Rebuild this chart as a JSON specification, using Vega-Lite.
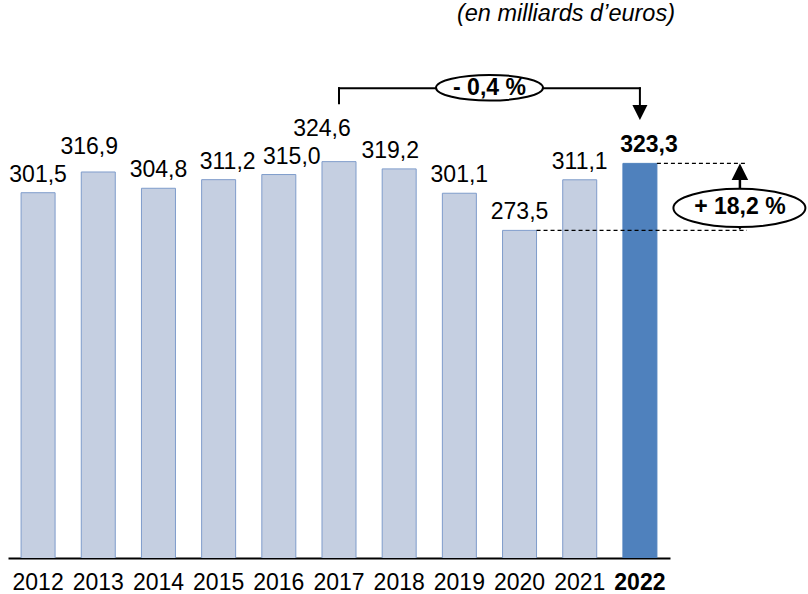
{
  "$schema": "https://vega.github.io/schema/vega-lite/v6.json",
  "width": 662,
  "height": 518,
  "autosize": {"type": "none"},
  "padding": {"left": 8, "top": 40, "right": 138, "bottom": 36},
  "title": {
    "text": "(en milliards d’euros)",
    "anchor": "end",
    "frame": "group",
    "font": "Liberation Sans",
    "fontSize": 23.5,
    "fontStyle": "italic",
    "fontWeight": "normal",
    "color": "black",
    "dx": 5,
    "offset": -4,
    "baseline": "alphabetic"
  },
  "config": {
    "view": {"stroke": null},
    "font": "Liberation Sans",
    "locale": {"number": {"decimal": ",", "thousands": " ", "grouping": [3], "currency": ["", " €"]}},
    "axisY": {"disable": true},
    "axisX": {
      "domainColor": "black",
      "domainWidth": 2,
      "ticks": false,
      "grid": false,
      "labelFont": "Liberation Sans",
      "labelFontSize": 23,
      "labelColor": "black",
      "labelAngle": 0,
      "labelPadding": 31,
      "labelBaseline": "alphabetic"
    }
  },
  "datasets": {
    "depenses": [
      {"year": "2012", "value": 301.5},
      {"year": "2013", "value": 316.9},
      {"year": "2014", "value": 304.8},
      {"year": "2015", "value": 311.2},
      {"year": "2016", "value": 315.0},
      {"year": "2017", "value": 324.6},
      {"year": "2018", "value": 319.2},
      {"year": "2019", "value": 301.1},
      {"year": "2020", "value": 273.5},
      {"year": "2021", "value": 311.1},
      {"year": "2022", "value": 323.3}
    ],
    "evol1": [{"from": "2017", "to": "2022", "label": "- 0,4 %"}],
    "evol2": [{"from": "2020", "to": "2022", "low": 273.5, "high": 323.3, "label": "+ 18,2 %"}]
  },
  "layer": [
    {
      "data": {"name": "depenses"},
      "mark": {"type": "bar", "clip": true, "strokeWidth": 1},
      "encoding": {
        "x": {
          "field": "year", "type": "ordinal", "title": null,
          "scale": {"paddingInner": 0.435, "paddingOuter": 0.2175},
          "axis": {"labelFontWeight": {"condition": {"test": "datum.value === '2022'", "value": "bold"}, "value": "normal"}}
        },
        "y": {"field": "value", "type": "quantitative", "title": null, "scale": {"domain": [30, 415], "nice": false, "zero": false}, "axis": null},
        "color": {"condition": {"test": "datum.year === '2022'", "value": "#4f81bd"}, "value": "#c5cfe1"},
        "stroke": {"condition": {"test": "datum.year === '2022'", "value": "#4f81bd"}, "value": "#7f9ccb"}
      }
    },
    {
      "data": {"name": "depenses"},
      "transform": [{"filter": {"field": "year", "oneOf": ["2012", "2014", "2019", "2020", "2021"]}}],
      "mark": {"type": "text", "fontSize": 23, "baseline": "alphabetic", "dy": -11, "color": "black"},
      "encoding": {
        "x": {"field": "year", "type": "ordinal", "title": null},
        "y": {"field": "value", "type": "quantitative", "title": null},
        "text": {"field": "value", "type": "quantitative", "format": ".1f"}
      }
    },
    {
      "data": {"name": "depenses"},
      "transform": [{"filter": "datum.year === '2013'"}],
      "mark": {"type": "text", "fontSize": 23, "baseline": "alphabetic", "dx": -9, "dy": -18, "color": "black"},
      "encoding": {
        "x": {"field": "year", "type": "ordinal", "title": null},
        "y": {"field": "value", "type": "quantitative", "title": null},
        "text": {"field": "value", "type": "quantitative", "format": ".1f"}
      }
    },
    {
      "data": {"name": "depenses"},
      "transform": [{"filter": "datum.year === '2015'"}],
      "mark": {"type": "text", "fontSize": 23, "baseline": "alphabetic", "dx": 9, "dy": -10.5, "color": "black"},
      "encoding": {
        "x": {"field": "year", "type": "ordinal", "title": null},
        "y": {"field": "value", "type": "quantitative", "title": null},
        "text": {"field": "value", "type": "quantitative", "format": ".1f"}
      }
    },
    {
      "data": {"name": "depenses"},
      "transform": [{"filter": "datum.year === '2016'"}],
      "mark": {"type": "text", "fontSize": 23, "baseline": "alphabetic", "dx": 13, "dy": -11, "color": "black"},
      "encoding": {
        "x": {"field": "year", "type": "ordinal", "title": null},
        "y": {"field": "value", "type": "quantitative", "title": null},
        "text": {"field": "value", "type": "quantitative", "format": ".1f"}
      }
    },
    {
      "data": {"name": "depenses"},
      "transform": [{"filter": "datum.year === '2017'"}],
      "mark": {"type": "text", "fontSize": 23, "baseline": "alphabetic", "dx": -17, "dy": -26, "color": "black"},
      "encoding": {
        "x": {"field": "year", "type": "ordinal", "title": null},
        "y": {"field": "value", "type": "quantitative", "title": null},
        "text": {"field": "value", "type": "quantitative", "format": ".1f"}
      }
    },
    {
      "data": {"name": "depenses"},
      "transform": [{"filter": "datum.year === '2018'"}],
      "mark": {"type": "text", "fontSize": 23, "baseline": "alphabetic", "dx": -9, "dy": -10.5, "color": "black"},
      "encoding": {
        "x": {"field": "year", "type": "ordinal", "title": null},
        "y": {"field": "value", "type": "quantitative", "title": null},
        "text": {"field": "value", "type": "quantitative", "format": ".1f"}
      }
    },
    {
      "data": {"name": "depenses"},
      "transform": [{"filter": "datum.year === '2022'"}],
      "mark": {"type": "text", "fontSize": 23, "fontWeight": "bold", "baseline": "alphabetic", "dx": 9, "dy": -11.5, "color": "black"},
      "encoding": {
        "x": {"field": "year", "type": "ordinal", "title": null},
        "y": {"field": "value", "type": "quantitative", "title": null},
        "text": {"field": "value", "type": "quantitative", "format": ".1f"}
      }
    },
    {
      "data": {"name": "evol1"},
      "mark": {"type": "rule", "strokeWidth": 2, "color": "black", "strokeCap": "square"},
      "encoding": {
        "x": {"field": "from", "type": "ordinal", "title": null},
        "x2": {"field": "to"},
        "y": {"datum": 379.1, "type": "quantitative"}
      }
    },
    {
      "data": {"name": "evol1"},
      "mark": {"type": "rule", "strokeWidth": 2, "color": "black", "strokeCap": "square"},
      "encoding": {
        "x": {"field": "from", "type": "ordinal", "title": null},
        "y": {"datum": 379.1, "type": "quantitative"},
        "y2": {"datum": 367.9}
      }
    },
    {
      "data": {"name": "evol1"},
      "mark": {"type": "rule", "strokeWidth": 2, "color": "black", "strokeCap": "square"},
      "encoding": {
        "x": {"field": "to", "type": "ordinal", "title": null},
        "y": {"datum": 379.1, "type": "quantitative"},
        "y2": {"datum": 364}
      }
    },
    {
      "data": {"name": "evol1"},
      "mark": {"type": "point", "shape": "M-1,-1L1,-1L0,1Z", "size": 225, "filled": true, "color": "black", "opacity": 1, "strokeWidth": 0},
      "encoding": {
        "x": {"field": "to", "type": "ordinal", "title": null},
        "y": {"datum": 361.1, "type": "quantitative"}
      }
    },
    {
      "data": {"name": "evol1"},
      "mark": {"type": "point", "shape": "M-1,0C-1,-0.1326,-0.5523,-0.24,0,-0.24C0.5523,-0.24,1,-0.1326,1,0C1,0.1326,0.5523,0.24,0,0.24C-0.5523,0.24,-1,0.1326,-1,0Z", "size": 11449, "filled": true, "fill": "white", "stroke": "black", "strokeWidth": 2, "opacity": 1, "xOffset": 150.5},
      "encoding": {
        "x": {"field": "from", "type": "ordinal", "title": null},
        "y": {"datum": 379.5, "type": "quantitative"}
      }
    },
    {
      "data": {"name": "evol1"},
      "mark": {"type": "text", "fontSize": 23, "fontWeight": "bold", "baseline": "middle", "color": "black", "dx": 150.5},
      "encoding": {
        "x": {"field": "from", "type": "ordinal", "title": null},
        "y": {"datum": 379.5, "type": "quantitative"},
        "text": {"field": "label"}
      }
    },
    {
      "data": {"name": "evol2"},
      "mark": {"type": "rule", "strokeWidth": 1.2, "color": "black", "strokeDash": [4, 3], "xOffset": 17, "x2Offset": 107},
      "encoding": {
        "x": {"field": "to", "type": "ordinal", "title": null},
        "x2": {"field": "to"},
        "y": {"field": "high", "type": "quantitative", "title": null}
      }
    },
    {
      "data": {"name": "evol2"},
      "mark": {"type": "rule", "strokeWidth": 1.2, "color": "black", "strokeDash": [4, 3], "xOffset": 17, "x2Offset": 107},
      "encoding": {
        "x": {"field": "from", "type": "ordinal", "title": null},
        "x2": {"field": "to"},
        "y": {"field": "low", "type": "quantitative", "title": null}
      }
    },
    {
      "data": {"name": "evol2"},
      "mark": {"type": "rule", "strokeWidth": 2.5, "color": "black", "xOffset": 100, "yOffset": 16, "y2Offset": -2},
      "encoding": {
        "x": {"field": "to", "type": "ordinal", "title": null},
        "y": {"field": "high", "type": "quantitative", "title": null},
        "y2": {"field": "low"}
      }
    },
    {
      "data": {"name": "evol2"},
      "mark": {"type": "point", "shape": "M0,-1L1,1L-1,1Z", "size": 275, "filled": true, "color": "black", "opacity": 1, "strokeWidth": 0, "xOffset": 100, "yOffset": 8.3},
      "encoding": {
        "x": {"field": "to", "type": "ordinal", "title": null},
        "y": {"field": "high", "type": "quantitative", "title": null}
      }
    },
    {
      "data": {"name": "evol2"},
      "mark": {"type": "point", "shape": "M-1,-1L1,-1L0,1Z", "size": 275, "filled": true, "color": "black", "opacity": 1, "strokeWidth": 0, "xOffset": 100, "yOffset": -8.3},
      "encoding": {
        "x": {"field": "to", "type": "ordinal", "title": null},
        "y": {"field": "low", "type": "quantitative", "title": null}
      }
    },
    {
      "data": {"name": "evol2"},
      "mark": {"type": "point", "shape": "M-1,0C-1,-0.1602,-0.5523,-0.29,0,-0.29C0.5523,-0.29,1,-0.1602,1,0C1,0.1602,0.5523,0.29,0,0.29C-0.5523,0.29,-1,0.1602,-1,0Z", "size": 17424, "filled": true, "fill": "white", "stroke": "black", "strokeWidth": 2, "opacity": 1, "xOffset": 99.5, "yOffset": -22.4},
      "encoding": {
        "x": {"field": "to", "type": "ordinal", "title": null},
        "y": {"field": "low", "type": "quantitative", "title": null}
      }
    },
    {
      "data": {"name": "evol2"},
      "mark": {"type": "text", "fontSize": 23, "fontWeight": "bold", "baseline": "middle", "color": "black", "dx": 100, "dy": -23},
      "encoding": {
        "x": {"field": "to", "type": "ordinal", "title": null},
        "y": {"field": "low", "type": "quantitative", "title": null},
        "text": {"field": "label"}
      }
    }
  ]
}
